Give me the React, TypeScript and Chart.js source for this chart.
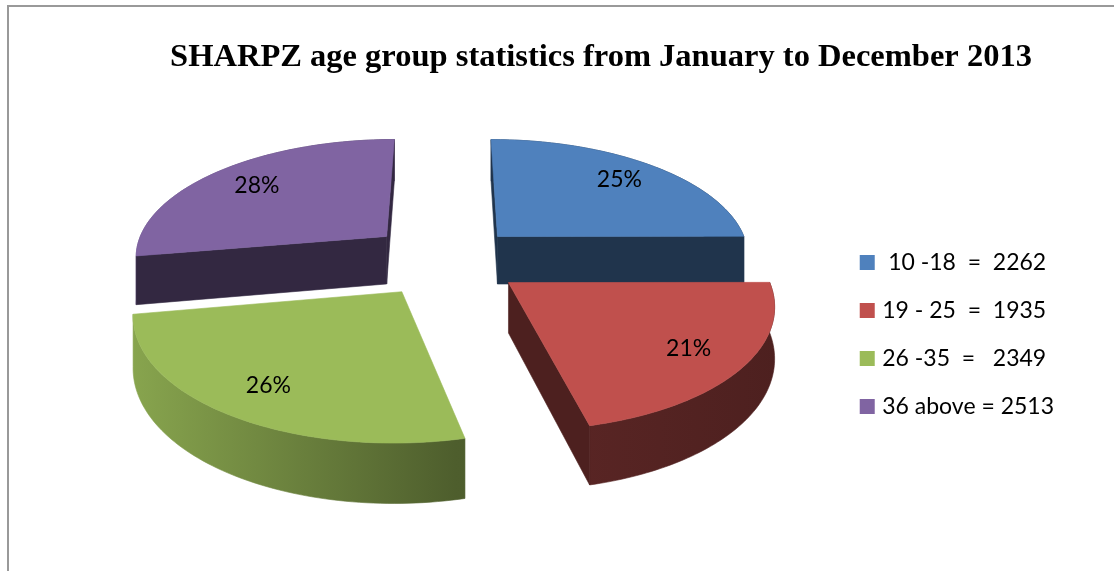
import React, { useEffect, useRef } from "react";
import { Chart, registerables } from "chart.js";

Chart.register(...registerables);

// Age groups and head counts
const ageGroups = ["10 -18", "19 - 25", "26 -35", "36 above"];
const counts = [2262, 1935, 2349, 2513];
const legendTexts = [" 10 -18  =  2262", "19 - 25  =  1935", "26 -35  =   2349", "36 above = 2513"];
const sliceColors = ["#4F81BD", "#C0504D", "#9BBB59", "#8064A2"];
// Distance each slice is pulled from the pie centre, as a share of the radius
const explode = [0.29, 0.3, 0.31, 0.32];
// Where each percentage sits along its slice's bisector, as a share of the radius
const labelReach = [0.78, 0.79, 0.79, 0.76];
const titleText = "SHARPZ age group statistics from January to December 2013";

// Perspective view of the tilted pie
const VIEW = { cx: 447, cy: 260, a: 254, b: 118, p: 0.15, depth: 49 };
const FACE_SHADE = 0.4;

function project(u: number, v: number, drop: number) {
  const w = 1 / (1 - VIEW.p * v);
  return {
    x: VIEW.cx + VIEW.a * u * w,
    y: VIEW.cy + VIEW.b * v * w + drop * VIEW.depth * w,
  };
}

function shade(hex: string, f: number) {
  const n = parseInt(hex.slice(1), 16);
  const c = [(n >> 16) & 255, (n >> 8) & 255, n & 255].map((x) => Math.round(x * f));
  return `rgb(${c[0]},${c[1]},${c[2]})`;
}

function fillPath(ctx: CanvasRenderingContext2D, pts: { x: number; y: number }[], fill: any) {
  ctx.beginPath();
  pts.forEach((pt, i) => (i ? ctx.lineTo(pt.x, pt.y) : ctx.moveTo(pt.x, pt.y)));
  ctx.closePath();
  ctx.fillStyle = fill;
  ctx.strokeStyle = fill;
  ctx.lineWidth = 0.6;
  ctx.fill();
  ctx.stroke();
}

// Draws the arcs laid out by the pie controller as extruded, exploded wedges
const tiltedPie = {
  id: "tiltedPie",
  beforeDatasetsDraw(chart: any) {
    const { ctx } = chart;
    const arcs = chart.getDatasetMeta(0).data;
    const slices = arcs.map((arc: any, i: number) => {
      const mid = (arc.startAngle + arc.endAngle) / 2;
      return {
        i,
        arc,
        mid,
        ou: explode[i] * Math.cos(mid),
        ov: explode[i] * Math.sin(mid),
      };
    });
    slices.sort((s: any, t: any) => s.ov - t.ov);

    ctx.save();
    for (const s of slices) {
      const { arc, ou, ov, i } = s;
      const base = sliceColors[i];
      const rim: [number, number][] = [];
      const steps = 72;
      for (let k = 0; k <= steps; k++) {
        const t = arc.startAngle + ((arc.endAngle - arc.startAngle) * k) / steps;
        rim.push([ou + Math.cos(t), ov + Math.sin(t)]);
      }
      const topRim = rim.map(([u, v]) => project(u, v, 0));
      const lowRim = rim.map(([u, v]) => project(u, v, 1));
      const apexTop = project(ou, ov, 0);
      const apexLow = project(ou, ov, 1);

      const grad = ctx.createLinearGradient(130, 0, 780, 0);
      grad.addColorStop(0, shade(base, 0.88));
      grad.addColorStop(0.5, shade(base, 0.5));
      grad.addColorStop(1, shade(base, 0.4));
      fillPath(ctx, [...topRim, ...lowRim.slice().reverse()], grad);

      // Cut faces are only painted when they turn towards the viewer
      const face = shade(base, FACE_SHADE);
      if (Math.sin(arc.startAngle - Math.PI / 2) > -0.02) {
        fillPath(ctx, [apexTop, topRim[0], lowRim[0], apexLow], face);
      }
      if (Math.sin(arc.endAngle + Math.PI / 2) > -0.02) {
        fillPath(ctx, [apexTop, topRim[steps], lowRim[steps], apexLow], face);
      }

      fillPath(ctx, [apexTop, ...topRim], base);
    }

    // Percentage labels on the top surfaces
    const total = counts.reduce((a, b) => a + b, 0);
    ctx.fillStyle = "#000";
    ctx.font = "23px Lato";
    ctx.textAlign = "center";
    ctx.textBaseline = "middle";
    for (const s of slices) {
      const pos = project(
        s.ou + labelReach[s.i] * Math.cos(s.mid),
        s.ov + labelReach[s.i] * Math.sin(s.mid),
        0
      );
      ctx.fillText(`${Math.round((counts[s.i] / total) * 100)}%`, pos.x, pos.y);
    }
    ctx.restore();
    return false;
  },
};

export default function App() {
  const ref = useRef<HTMLCanvasElement>(null);

  useEffect(() => {
    const chart = new Chart(ref.current!, {
      type: "pie",
      plugins: [tiltedPie],
      data: {
        labels: ageGroups,
        datasets: [{ data: counts, backgroundColor: sliceColors, borderWidth: 0 }],
      },
      options: {
        responsive: false,
        animation: false,
        layout: { padding: { left: 138, right: 50, top: 0, bottom: 128 } },
        plugins: {
          tooltip: { enabled: false },
          title: {
            display: true,
            text: titleText,
            color: "#000",
            font: { family: "'Liberation Serif'", size: 32.5, weight: "bold" },
            padding: { top: 38, bottom: 23 },
          },
          legend: {
            display: true,
            position: "right",
            align: "end",
            labels: {
              boxWidth: 7,
              boxHeight: 7,
              padding: 25,
              color: "#000",
              font: { family: "Lato", size: 23 },
              generateLabels: () =>
                legendTexts.map((text, i) => ({
                  text,
                  fillStyle: sliceColors[i],
                  strokeStyle: sliceColors[i],
                  lineWidth: 8,
                  hidden: false,
                  index: i,
                })),
            },
          },
        },
      },
    } as any);
    return () => chart.destroy();
  }, []);

  return (
    <div style={{ position: "fixed", left: 0, top: 0, width: 1114, height: 571, overflow: "hidden", background: "#fff" }}>
      <canvas ref={ref} width={1114} height={571} style={{ display: "block" }} />
      <div
        style={{
          position: "absolute",
          left: 7,
          top: 5,
          width: 1200,
          height: 700,
          borderLeft: "2px solid #999",
          borderTop: "2px solid #999",
        }}
      />
    </div>
  );
}
